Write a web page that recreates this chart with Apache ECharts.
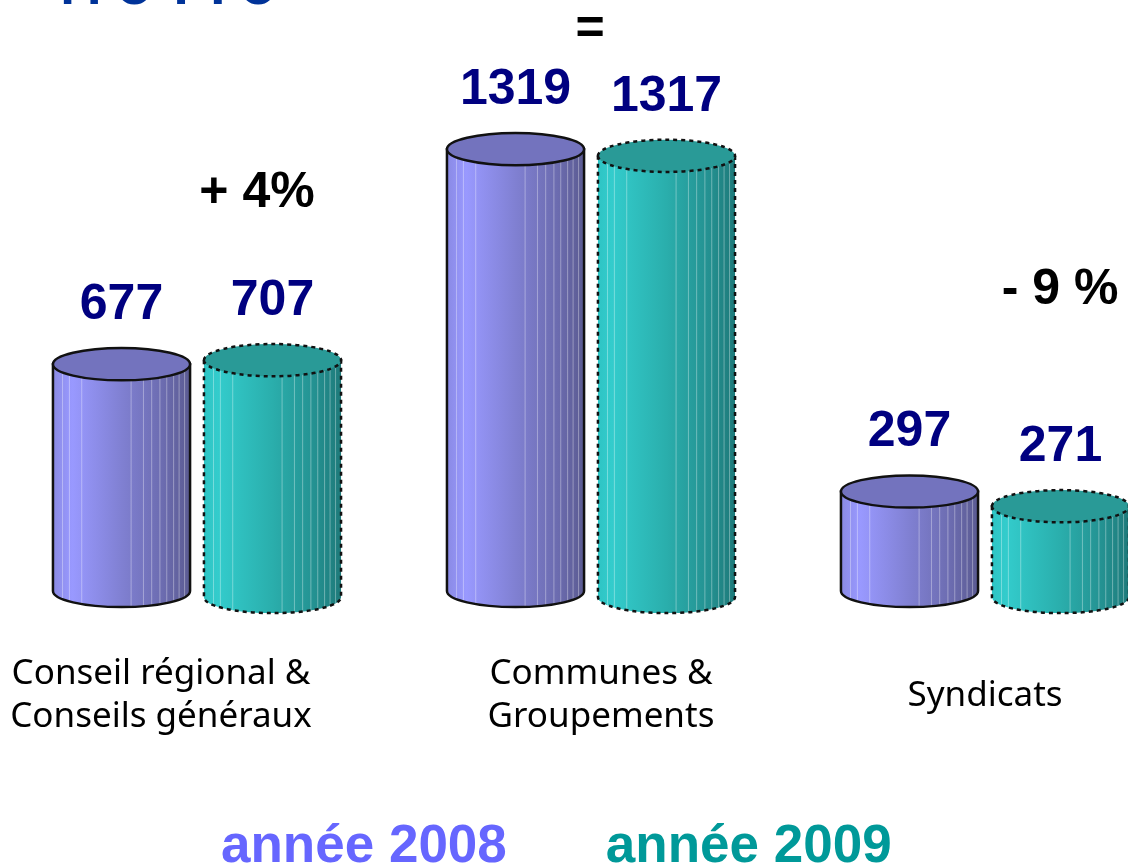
<!DOCTYPE html>
<html><head><meta charset="utf-8">
<script src="https://cdn.jsdelivr.net/npm/echarts@6.0.0/dist/echarts.min.js"></script>
<style>html,body{margin:0;padding:0;background:#fff}#c{width:1128px;height:863px}</style>
</head><body><div id="c"></div>
<script>
// ---- data ----
const categories = ['Conseil régional &\nConseils généraux', 'Communes &\nGroupements', 'Syndicats'];
const values2008 = [677, 1319, 297];
const values2009 = [707, 1317, 271];
const seriesNames = ['année 2008', 'année 2009'];
const changeLabels = ['+ 4%', '=', '- 9 %'];
const titleText = 'M O T I O';

// ---- styles ----
const STYLE = [
  { offset: -0.1916, shift: 0, dashed: false, top: '#7373be', legend: '#6666ff',
    stops: [[0, '#8a8ae4'], [0.14, '#9999ff'], [0.5, '#8080d2'], [0.8, '#6c6cb0'], [1, '#5b5b92']] },
  { offset: 0.1916, shift: 6, dashed: true, top: '#299a97', legend: '#009999',
    stops: [[0, '#2ec4c4'], [0.1, '#33cccc'], [0.5, '#2aaeac'], [0.8, '#249292'], [1, '#1e7a7a']] }
];
const STRIPES = [0.07, 0.12, 0.21, 0.57, 0.66, 0.72, 0.78, 0.83, 0.88, 0.92, 0.96];
const LABEL_FONT = 'bold 50px "Liberation Sans", Arial, sans-serif';

function makeRender(st) {
  return function (params, api) {
    const idx = api.value(0), v = api.value(1);
    const top = api.coord([idx, v]);
    const base = api.coord([idx, 0]);
    const band = api.size([1, 0])[0];
    const cx = top[0] + st.offset * band;
    const rx = band * 0.174;
    const ry = rx * 0.235;
    const ty = top[1] + st.shift, by = base[1] + st.shift;
    const L = cx - rx, R = cx + rx;
    const body = `M${L},${ty} L${L},${by} A${rx},${ry} 0 0 0 ${R},${by} L${R},${ty} Z`;
    const cap = `M${L},${ty} A${rx},${ry} 0 1 0 ${R},${ty} A${rx},${ry} 0 1 0 ${L},${ty} Z`;
    const stroke = st.dashed
      ? { stroke: '#111', lineWidth: 2.5, lineDash: [4, 4] }
      : { stroke: '#111', lineWidth: 2.5, lineDash: null };
    const children = [];
    children.push({ type: 'path', shape: { pathData: body },
      style: { fill: new echarts.graphic.LinearGradient(0, 0, 1, 0,
        st.stops.map(s => ({ offset: s[0], color: s[1] }))), stroke: null } });
    STRIPES.forEach(f => {
      const x = L + f * 2 * rx;
      const dx = (x - cx) / rx;
      const h = ry * Math.sqrt(Math.max(0, 1 - dx * dx));
      children.push({ type: 'line', shape: { x1: x, y1: ty + h, x2: x, y2: by + h },
        style: { stroke: 'rgba(255,255,255,0.35)', lineWidth: 1 } });
    });
    children.push({ type: 'path', shape: { pathData: body },
      style: Object.assign({ fill: null }, stroke) });
    children.push({ type: 'path', shape: { pathData: cap },
      style: Object.assign({ fill: st.top }, stroke) });
    children.push({ type: 'text', style: { text: String(v), x: cx, y: ty - 59,
      fill: '#000080', font: LABEL_FONT, align: 'center', verticalAlign: 'middle' } });
    return { type: 'group', children };
  };
}

const chart = echarts.init(document.getElementById('c'), null, { renderer: 'canvas' });
const catFont = { fontFamily: '"Noto Sans", sans-serif', fontSize: 35, color: '#000', lineHeight: 43 };
const annoPos = [[257, 193], [590, 30], [1060, 290]];
chart.setOption({
  animation: false,
  backgroundColor: '#fff',
  grid: { left: 0, right: -54, top: 88.5, bottom: 272, outerBoundsMode: 'none', containLabel: false },
  xAxis: {
    type: 'category', data: categories,
    axisLine: { show: false }, axisTick: { show: false }, splitLine: { show: false },
    axisLabel: Object.assign({
      margin: 105, verticalAlign: 'middle', interval: 0, hideOverlap: false,
      formatter: (v, i) => v.split('\n').map(s => `{c${i}|${s}}`).join('\n'),
      rich: {
        c0: Object.assign({ padding: [0, 72, 0, 0] }, catFont),
        c1: Object.assign({ padding: [0, 0, 0, 20] }, catFont),
        c2: Object.assign({}, catFont)
      }
    }, catFont)
  },
  yAxis: { type: 'value', min: 0, max: 1500, show: false },
  legend: {
    left: 211, top: 816, icon: 'none', itemWidth: 0, itemHeight: 0, itemGap: 94,
    selectedMode: false,
    textStyle: { fontSize: 53, fontWeight: 'bold', fontFamily: '"Liberation Sans", Arial, sans-serif' },
    data: seriesNames.map((n, i) => ({ name: n, textStyle: { color: STYLE[i].legend } }))
  },
  graphic: [
    { type: 'text', left: 60, top: -28, style: { text: titleText, fill: '#003399',
      font: 'bold 42px "DejaVu Sans", sans-serif' } }
  ].concat(changeLabels.map((t, i) => ({
    type: 'text', x: annoPos[i][0], y: annoPos[i][1],
    style: { text: t, fill: '#000', font: 'bold 50px "Liberation Sans", Arial, sans-serif',
      align: 'center', verticalAlign: 'middle' }
  }))),
  series: [values2008, values2009].map((vals, i) => ({
    type: 'custom', name: seriesNames[i],
    itemStyle: { color: STYLE[i].legend },
    renderItem: makeRender(STYLE[i]),
    encode: { x: 0, y: 1 },
    clip: false,
    data: vals.map((v, k) => [k, v])
  }))
});
</script>
</body></html>
